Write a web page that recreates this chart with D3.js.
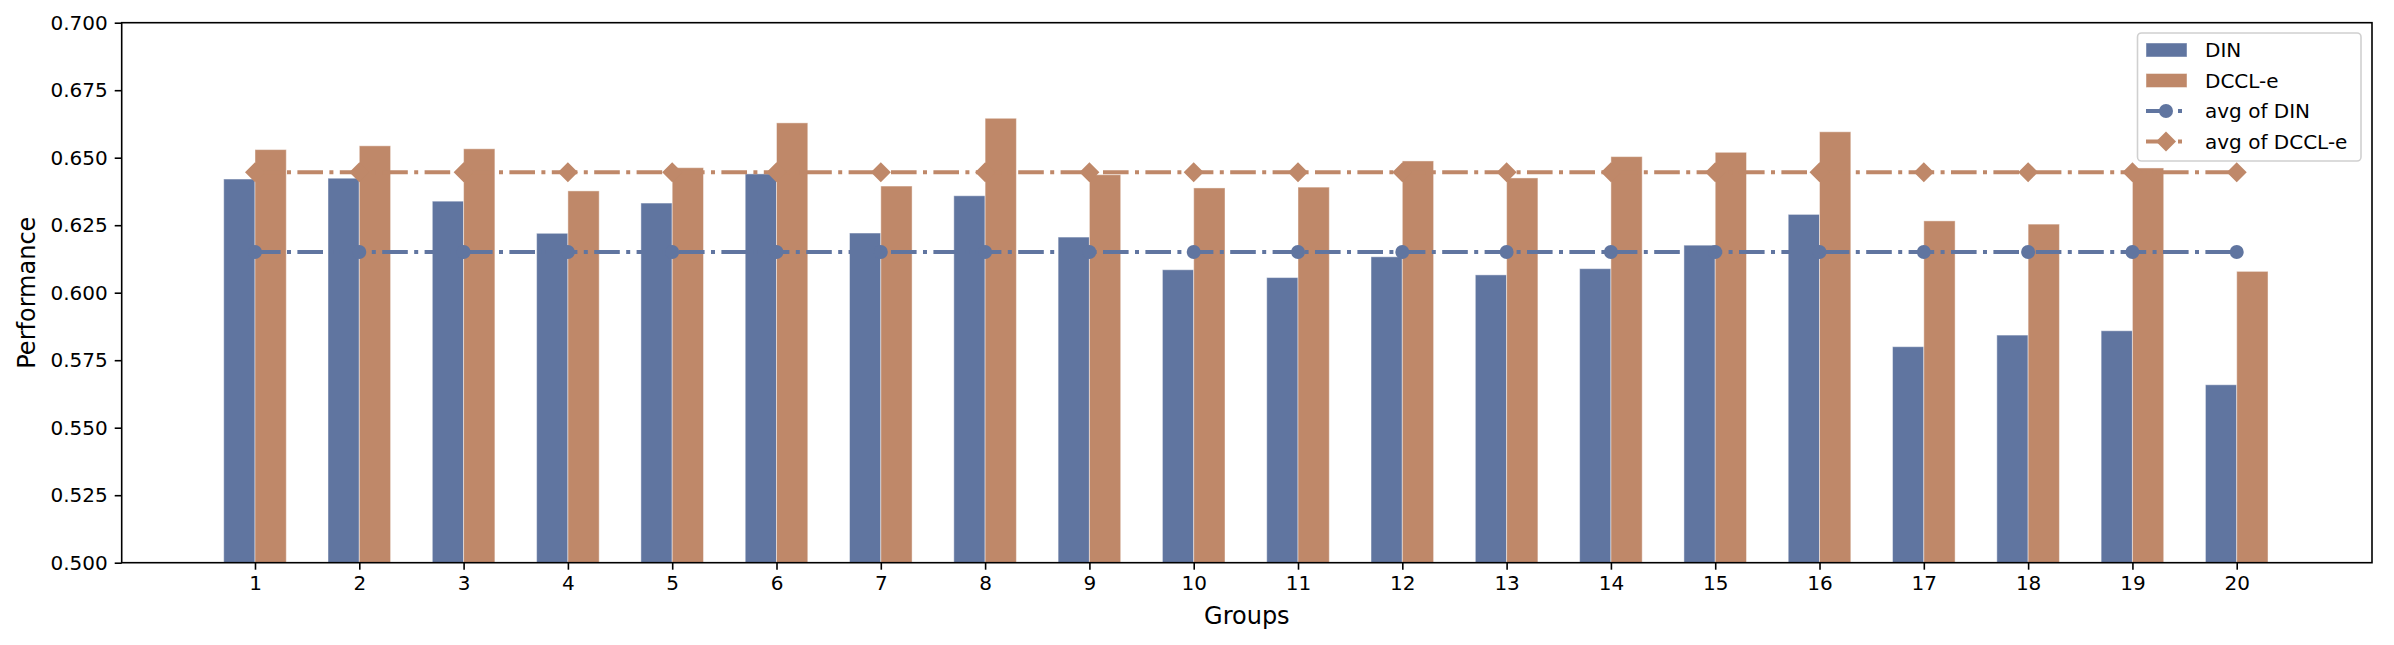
<!DOCTYPE html>
<html>
<head>
<meta charset="utf-8">
<script src="https://cdn.jsdelivr.net/npm/d3@7"></script>
<style>
  body { margin: 0; background: #ffffff; }
  text { font-family: "DejaVu Sans", sans-serif; fill: #000; }
</style>
</head>
<body>
<div id="chart"></div>
<script>
// Data
var groups = [1, 2, 3, 4, 5, 6, 7, 8, 9, 10, 11, 12, 13, 14, 15, 16, 17, 18, 19, 20];
var dinValues = [0.6421, 0.6424, 0.6339, 0.6220, 0.6332, 0.6440, 0.6221, 0.6359, 0.6206, 0.6085,
                 0.6056, 0.6133, 0.6066, 0.6089, 0.6176, 0.6290, 0.5800, 0.5843, 0.5859, 0.5659];
var dcclValues = [0.6530, 0.6544, 0.6533, 0.6377, 0.6463, 0.6629, 0.6395, 0.6646, 0.6437, 0.6388,
                  0.6391, 0.6488, 0.6425, 0.6504, 0.6520, 0.6596, 0.6266, 0.6254, 0.6462, 0.6079];
var yTicks = [0.500, 0.525, 0.550, 0.575, 0.600, 0.625, 0.650, 0.675, 0.700];
var seriesNames = ["DIN", "DCCL-e", "avg of DIN", "avg of DCCL-e"];

// averages drawn as flat lines
var dinAvg = d3.mean(dinValues);
var dcclAvg = d3.mean(dcclValues);

var blue = "#6075a0";
var brown = "#bf8869";

// SVG area
var svgWidth = 2394;
var svgHeight = 645;

// plot box in pixels
var plot = { left: 121.7, right: 2372, top: 22.7, bottom: 562.7 };

var svg = d3.select("#chart")
  .append("svg")
  .attr("width", svgWidth)
  .attr("height", svgHeight);

svg.append("rect")
  .attr("width", svgWidth)
  .attr("height", svgHeight)
  .attr("fill", "#fff");

// scales
var xScale = d3.scaleLinear()
  .domain([-0.278, 21.297])
  .range([plot.left, plot.right]);

var yScale = d3.scaleLinear()
  .domain([0.5, 0.7])
  .range([plot.bottom, plot.top]);

var barWidth = xScale(0.3) - xScale(0);

// bars: DIN left of the tick, DCCL-e right of it
var barGroup = svg.append("g");

barGroup.selectAll(".din")
  .data(groups)
  .enter()
  .append("rect")
  .attr("class", "din")
  .attr("x", (d, i) => xScale(d - 0.3))
  .attr("y", (d, i) => yScale(dinValues[i]))
  .attr("width", barWidth)
  .attr("height", (d, i) => yScale(0.5) - yScale(dinValues[i]))
  .attr("fill", blue)
  .attr("stroke", "#fff")
  .attr("stroke-opacity", 0.45)
  .attr("stroke-width", 1);

barGroup.selectAll(".dccl")
  .data(groups)
  .enter()
  .append("rect")
  .attr("class", "dccl")
  .attr("x", d => xScale(d))
  .attr("y", (d, i) => yScale(dcclValues[i]))
  .attr("width", barWidth)
  .attr("height", (d, i) => yScale(0.5) - yScale(dcclValues[i]))
  .attr("fill", brown)
  .attr("stroke", "#fff")
  .attr("stroke-opacity", 0.45)
  .attr("stroke-width", 1);

// average lines, dash-dot
var dashDot = "25.6,6.4,4,6.4";

var avgLine = d3.line()
  .x(d => xScale(d.x))
  .y(d => yScale(d.y));

var dinAvgPts = groups.map(g => ({ x: g, y: dinAvg }));
var dcclAvgPts = groups.map(g => ({ x: g, y: dcclAvg }));

var lineGroup = svg.append("g");

lineGroup.append("path")
  .attr("d", avgLine(dinAvgPts))
  .attr("fill", "none")
  .attr("stroke", blue)
  .attr("stroke-width", 4)
  .attr("stroke-dasharray", dashDot);

lineGroup.selectAll(".dinMark")
  .data(dinAvgPts)
  .enter()
  .append("circle")
  .attr("class", "dinMark")
  .attr("cx", d => xScale(d.x))
  .attr("cy", d => yScale(d.y))
  .attr("r", 7)
  .attr("fill", blue);

lineGroup.append("path")
  .attr("d", avgLine(dcclAvgPts))
  .attr("fill", "none")
  .attr("stroke", brown)
  .attr("stroke-width", 4)
  .attr("stroke-dasharray", dashDot);

// square turned 45 degrees = diamond marker
var diamond = d3.symbol().type(d3.symbolSquare).size(200);

lineGroup.selectAll(".dcclMark")
  .data(dcclAvgPts)
  .enter()
  .append("path")
  .attr("class", "dcclMark")
  .attr("d", diamond)
  .attr("transform", d => `translate(${xScale(d.x)},${yScale(d.y)}) rotate(45)`)
  .attr("fill", brown);

// axes
var bottomAxis = d3.axisBottom(xScale)
  .tickValues(groups)
  .tickFormat(d3.format("d"))
  .tickSizeOuter(0)
  .tickSizeInner(7)
  .tickPadding(6);

var leftAxis = d3.axisLeft(yScale)
  .tickValues(yTicks)
  .tickFormat(d3.format(".3f"))
  .tickSizeOuter(0)
  .tickSizeInner(7)
  .tickPadding(7);

var xAxisG = svg.append("g")
  .attr("transform", `translate(0, ${plot.bottom})`)
  .call(bottomAxis);

var yAxisG = svg.append("g")
  .attr("transform", `translate(${plot.left}, 0)`)
  .call(leftAxis);

[xAxisG, yAxisG].forEach(function(g) {
  g.select(".domain").remove();
  g.selectAll(".tick line").attr("stroke", "#000").attr("stroke-width", 1.6);
  g.selectAll(".tick text").style("font-size", "20px").style("font-family", "DejaVu Sans");
});

// frame around the plot
svg.append("rect")
  .attr("x", plot.left)
  .attr("y", plot.top)
  .attr("width", plot.right - plot.left)
  .attr("height", plot.bottom - plot.top)
  .attr("fill", "none")
  .attr("stroke", "#000")
  .attr("stroke-width", 1.6);

// axis labels
svg.append("text")
  .attr("x", (plot.left + plot.right) / 2)
  .attr("y", 624)
  .attr("text-anchor", "middle")
  .style("font-size", "24px")
  .text("Groups");

svg.append("text")
  .attr("transform", `translate(35, ${(plot.top + plot.bottom) / 2}) rotate(-90)`)
  .attr("text-anchor", "middle")
  .style("font-size", "24px")
  .text("Performance");

// legend
var legend = svg.append("g");

legend.append("rect")
  .attr("x", 2137.5)
  .attr("y", 33)
  .attr("width", 223.5)
  .attr("height", 128)
  .attr("rx", 4)
  .attr("fill", "#fff")
  .attr("fill-opacity", 0.8)
  .attr("stroke", "#d0d0d0")
  .attr("stroke-width", 1.6);

var rowY = [50, 80.5, 111, 141.5];

seriesNames.forEach(function(name, i) {
  var y = rowY[i];
  var color = (i % 2 === 0) ? blue : brown;
  if (i < 2) {
    legend.append("rect")
      .attr("x", 2146)
      .attr("y", y - 7)
      .attr("width", 41)
      .attr("height", 14)
      .attr("fill", color)
      .attr("stroke", "#fff")
      .attr("stroke-opacity", 0.45)
      .attr("stroke-width", 1);
  } else {
    legend.append("line")
      .attr("x1", 2146)
      .attr("x2", 2186)
      .attr("y1", y)
      .attr("y2", y)
      .attr("stroke", color)
      .attr("stroke-width", 4)
      .attr("stroke-dasharray", dashDot);
    if (i === 2) {
      legend.append("circle")
        .attr("cx", 2166)
        .attr("cy", y)
        .attr("r", 7)
        .attr("fill", color);
    } else {
      legend.append("path")
        .attr("d", diamond)
        .attr("transform", `translate(2166,${y}) rotate(45)`)
        .attr("fill", color);
    }
  }
  legend.append("text")
    .attr("x", 2205)
    .attr("y", y)
    .attr("dy", "0.36em")
    .style("font-size", "20px")
    .text(name);
});
</script>
</body>
</html>
